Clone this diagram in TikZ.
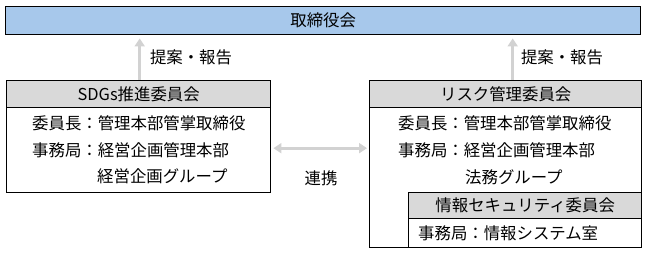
\documentclass[tikz,border=0pt]{standalone}
\usepackage{fontspec}
\setmainfont{Noto Sans CJK JP}
\usetikzlibrary{arrows.meta}
\definecolor{topblue}{HTML}{A7C8EB}
\definecolor{hdrgray}{HTML}{D9D9D9}
\definecolor{arrgray}{HTML}{D2D2D2}
\begin{document}
\begin{tikzpicture}[x=1pt,y=-1pt,
  frame/.style={draw=black, line width=1.4pt, inner sep=0pt, anchor=north west, font=\fontsize{16.4}{18}\selectfont},
  txt/.style={font=\fontsize{16.4}{18}\selectfont, inner sep=0pt},
  flow/.style={draw=arrgray, line width=3pt, -{Triangle[length=8pt,width=10pt]}},
  both/.style={draw=arrgray, line width=3pt, {Triangle[length=8pt,width=10pt]}-{Triangle[length=8pt,width=10pt]}},
]
\useasboundingbox (0,0) rectangle (645,253);
% board
\node[frame, fill=topblue, minimum width=635pt, minimum height=28pt] (board) at (5,6) {取締役会};
% SDGs committee
\node[frame, fill=hdrgray, minimum width=264pt, minimum height=27pt] (sdgh) at (6,80) {SDGs推進委員会};
\node[frame, fill=white, minimum width=264pt, minimum height=85pt] (sdgb) at (6,107) {};
\node[txt, anchor=west] (s1) at (32,123) {委員長：管理本部管掌取締役};
\node[txt, anchor=west] (s2) at (32,150) {事務局：経営企画管理本部};
\node[txt, anchor=west] (s3) at (97,176) {経営企画グループ};
% Risk committee
\node[frame, fill=hdrgray, minimum width=272pt, minimum height=27pt] (riskh) at (369,80) {リスク管理委員会};
\node[frame, fill=white, minimum width=272pt, minimum height=140pt] (riskb) at (369,107) {};
\node[txt, anchor=west] (r1) at (398,123) {委員長：管理本部管掌取締役};
\node[txt, anchor=west] (r2) at (398,150) {事務局：経営企画管理本部};
\node[txt, anchor=west] (r3) at (465,177) {法務グループ};
% Info security committee
\node[frame, fill=hdrgray, minimum width=233pt, minimum height=26pt] (isech) at (408,192) {情報セキュリティ委員会};
\node[frame, fill=white, minimum width=233pt, minimum height=29pt] (isecb) at (408,218) {};
\node[txt, anchor=west] (i1) at (418,233) {事務局：情報システム室};
% arrows
\draw[flow, shorten >=3pt] ([xshift=1pt]sdgh.north) -- ([xshift=1pt]sdgh.north |- board.south);
\draw[flow, shorten >=3pt] ([xshift=7pt]riskh.north) -- ([xshift=7pt]riskh.north |- board.south);
\draw[both, shorten <=2pt, shorten >=2pt] ([yshift=2pt]sdgb.east) -- ([yshift=2pt]sdgb.east -| riskb.west);
% labels
\node[txt] (l1) at (191,57) {提案・報告};
\node[txt] (l2) at (562,57) {提案・報告};
\node[txt] (l3) at (321,178) {連携};
\end{tikzpicture}
\end{document}
